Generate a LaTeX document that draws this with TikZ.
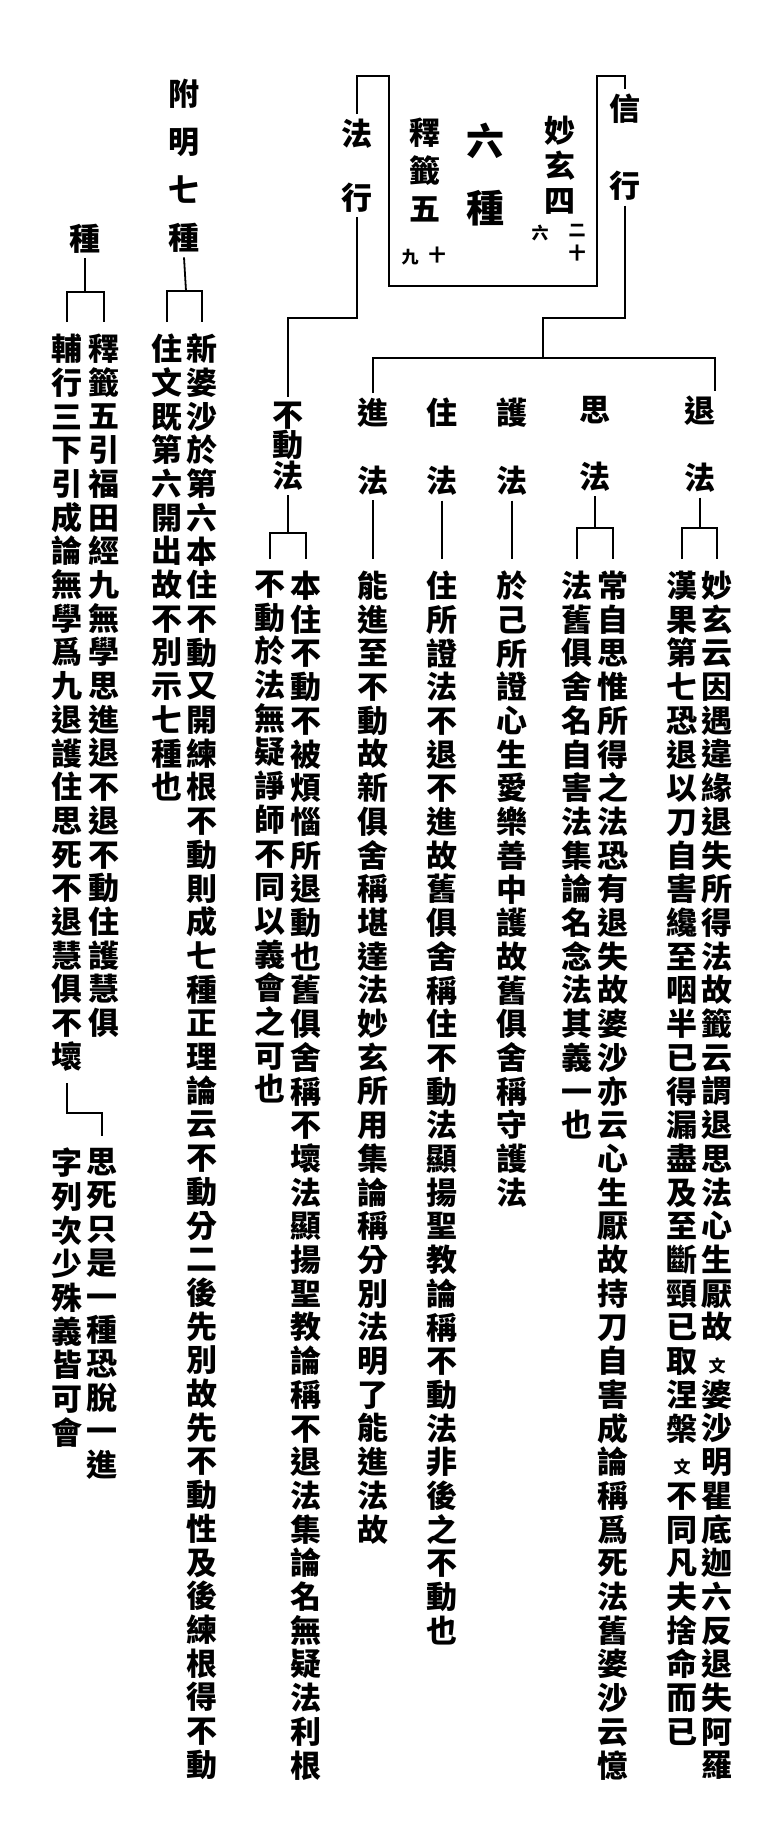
\documentclass[tikz,border=0pt]{standalone}
\usepackage{fontspec}
\newfontfamily\cjk{Noto Sans CJK TC}
\XeTeXlinebreaklocale "zh"
\XeTeXlinebreakskip=0pt plus 1pt
\newcommand{\smallwen}{\\{\fontsize{17}{17}\selectfont 文}\\}
\tikzset{
  col/.style={anchor=north, inner sep=0pt, text width=31pt, align=center,
    font=\cjk\bfseries\fontsize{31}{33.7}\selectfont},
  txt/.style={col, outer sep=12pt},
  labcol/.style={col, outer sep=5pt, font=\cjk\bfseries\fontsize{31}{67}\selectfont},
  note/.style={col, text width=17pt, font=\cjk\bfseries\fontsize{17}{23}\selectfont},
  rule/.style={line width=1.8pt},
}
\begin{document}
\begin{tikzpicture}[x=1pt,y=-1pt]
	\useasboundingbox (0,0) rectangle (765,1845);

	% the root box: sources and title
	\node[col, font=\cjk\bfseries\fontsize{31}{35}\selectfont] (miao) at (560,116) {妙玄四};
	\node[note] (miaoR) at (577,224) {二十};
	\node[note] (miaoL) at (540,225) {六};
	\node[col, text width=38pt, font=\cjk\bfseries\fontsize{38}{67}\selectfont] (liuzhong) at (485,123) {六種};
	\node[col, font=\cjk\bfseries\fontsize{31}{38}\selectfont] (shiqian) at (425,118) {釋籤五};
	\node[note] (shiR) at (437,247) {十};
	\node[note] (shiL) at (410,249) {九};
	\coordinate (boxTL) at (389,76);
	\coordinate (boxBL) at (389,286);
	\coordinate (boxBR) at (597,286);
	\coordinate (boxTR) at (597,76);

	% the two branches
	\node[labcol, font=\cjk\bfseries\fontsize{31}{77}\selectfont] (xin) at (625,89) {信行};
	\node[labcol, font=\cjk\bfseries\fontsize{31}{64}\selectfont] (faxing) at (357,114) {法行};
	\draw[rule] (faxing.north) |- (boxTL) -- (boxBL) -- (boxBR) -- (boxTR) -| (xin.north);

	% the six kinds
	\node[labcol] (tui) at (700,391) {退法};
	\node[labcol] (si) at (595,391) {思法};
	\node[labcol, font=\cjk\bfseries\fontsize{31}{68}\selectfont] (hu) at (512,393) {護法};
	\node[labcol, font=\cjk\bfseries\fontsize{31}{68}\selectfont] (zhu) at (442,393) {住法};
	\node[labcol, font=\cjk\bfseries\fontsize{31}{68}\selectfont] (jin) at (373,393) {進法};
	\node[labcol, font=\cjk\bfseries\fontsize{31}{29}\selectfont] (budong) at (288,397) {不動法};

	\coordinate (jxin) at (543,318);
	\coordinate (jsix) at (543,358);
	\coordinate (tuitop) at (715,391);
	\draw[rule] (xin.south) |- (jxin) -- (jsix);
	\draw[rule] (jin.north) |- (jsix) -| (tuitop);
	\coordinate (jfa) at (357,318);
	\draw[rule] (faxing.south) -- (jfa) -| (budong.north);

	% texts under each kind
	\node[txt] (tuiA) at (717,559) {妙玄云因遇違緣退失所得法故籤云謂退思法心生厭故\smallwen 婆沙明瞿底迦六反退失阿羅};
	\node[txt] (tuiB) at (682,559) {漢果第七恐退以刀自害纔至咽半已得漏盡及至斷頸已取涅槃\smallwen 不同凡夫捨命而已};
	\node[txt] (siA) at (613,559) {常自思惟所得之法恐有退失故婆沙亦云心生厭故持刀自害成論稱爲死法舊婆沙云憶};
	\node[txt] (siB) at (577,559) {法舊俱舍名自害法集論名念法其義一也};
	\node[txt] (huA) at (512,559) {於己所證心生愛樂善中護故舊俱舍稱守護法};
	\node[txt] (zhuA) at (442,559) {住所證法不退不進故舊俱舍稱住不動法顯揚聖教論稱不動法非後之不動也};
	\node[txt] (jinA) at (373,559) {能進至不動故新俱舍稱堪達法妙玄所用集論稱分別法明了能進法故};
	\node[txt] (budongA) at (306,559) {本住不動不被煩惱所退動也舊俱舍稱不壞法顯揚聖教論稱不退法集論名無疑法利根};
	\node[txt] (budongB) at (270,559) {不動於法無疑諍師不同以義會之可也};

	\coordinate (jtui) at (700,528);
	\draw[rule] (tui.south) -- (jtui);
	\draw[rule] (tuiB.north) |- (jtui) -| (tuiA.north);
	\coordinate (jsi) at (595,528);
	\draw[rule] (si.south) -- (jsi);
	\draw[rule] (siB.north) |- (jsi) -| (siA.north);
	\draw[rule] (hu.south) -- (huA.north);
	\draw[rule] (zhu.south) -- (zhuA.north);
	\draw[rule] (jin.south) -- (jinA.north);
	\coordinate (jbd) at (288,533);
	\draw[rule] (budong.south) -- (jbd);
	\draw[rule] (budongB.north) |- (jbd) -| (budongA.north);

	% appendix: the seven kinds
	\node[labcol, font=\cjk\bfseries\fontsize{31}{48}\selectfont] (fuming) at (184,74) {附明七種};
	\node[txt] (qiA) at (202,322) {新婆沙於第六本住不動又開練根不動則成七種正理論云不動分二後先別故先不動性及後練根得不動};
	\node[txt] (qiB) at (167,322) {住文既第六開出故不別示七種也};
	\coordinate (jqi) at (186,291);
	\draw[rule] (fuming.south) -- (jqi);
	\draw[rule] (qiB.north) |- (jqi) -| (qiA.north);

	\node[labcol] (zhong) at (85,219) {種};
	\node[txt] (zhA) at (104,322) {釋籤五引福田經九無學思進退不退不動住護慧俱};
	\node[txt] (zhB) at (67,322) {輔行三下引成論無學爲九退護住思死不退慧俱不壞};
	\coordinate (jzh) at (85,292);
	\draw[rule] (zhong.south) -- (jzh);
	\draw[rule] (zhB.north) |- (jzh) -| (zhA.north);

	\node[txt] (zhC) at (102,1136) {思死只是一種恐脫一進};
	\node[txt] (zhD) at (67,1136) {字列次少殊義皆可會};
	\coordinate (jzhc) at (67,1113);
	\draw[rule] (zhB.south) -- (jzhc) -| (zhC.north);
\end{tikzpicture}
\end{document}
